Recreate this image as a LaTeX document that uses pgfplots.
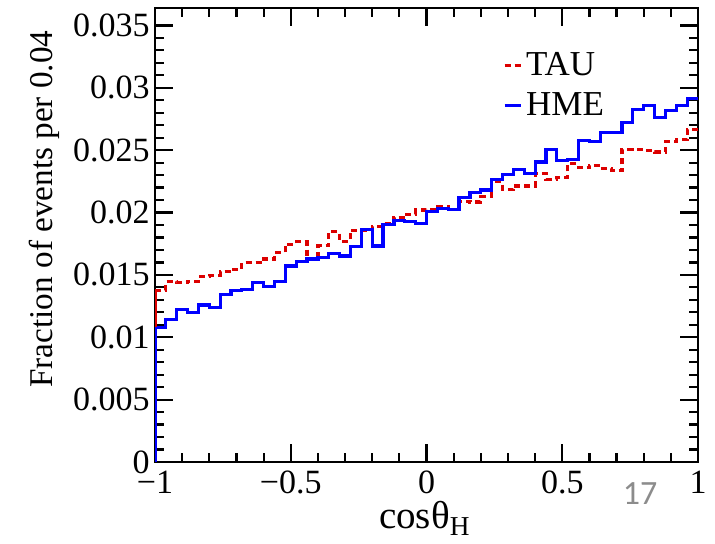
\documentclass[border=0pt]{standalone}
\usepackage{fontspec}
\setmainfont{Liberation Serif}
\newfontfamily\slidefont{Carlito}
\usepackage{pgfplots}
\pgfplotsset{compat=1.18}
\usetikzlibrary{calc}
\definecolor{tauRed}{RGB}{220,0,0}
\definecolor{hmeBlue}{RGB}{0,0,255}

% 50 bins of width 0.04, left edges; last row closes the final bin
\pgfplotstableread{
x y
-1.00 0.01378
-0.96 0.01445
-0.92 0.01437
-0.88 0.01450
-0.84 0.01490
-0.80 0.01498
-0.76 0.01525
-0.72 0.01544
-0.68 0.01597
-0.64 0.01597
-0.60 0.01627
-0.56 0.01680
-0.52 0.01744
-0.48 0.01765
-0.44 0.01632
-0.40 0.01733
-0.36 0.01846
-0.32 0.01771
-0.28 0.01859
-0.24 0.01859
-0.20 0.01891
-0.16 0.01912
-0.12 0.01960
-0.08 0.01987
-0.04 0.02020
0.00 0.02027
0.04 0.02051
0.08 0.02027
0.12 0.02091
0.16 0.02085
0.20 0.02126
0.24 0.02246
0.28 0.02185
0.32 0.02212
0.36 0.02212
0.40 0.02313
0.44 0.02265
0.48 0.02278
0.52 0.02390
0.56 0.02361
0.60 0.02380
0.64 0.02353
0.68 0.02334
0.72 0.02506
0.76 0.02506
0.80 0.02500
0.84 0.02486
0.88 0.02567
0.92 0.02586
0.96 0.02666
1.00 0.02666
}\tautable

\pgfplotstableread{
x y
-1.00 0.01079
-0.96 0.01143
-0.92 0.01223
-0.88 0.01196
-0.84 0.01258
-0.80 0.01239
-0.76 0.01346
-0.72 0.01373
-0.68 0.01383
-0.64 0.01437
-0.60 0.01405
-0.56 0.01445
-0.52 0.01571
-0.48 0.01605
-0.44 0.01627
-0.40 0.01640
-0.36 0.01672
-0.32 0.01651
-0.28 0.01725
-0.24 0.01864
-0.20 0.01731
-0.16 0.01907
-0.12 0.01934
-0.08 0.01926
-0.04 0.01912
0.00 0.02011
0.04 0.02033
0.08 0.02027
0.12 0.02118
0.16 0.02158
0.20 0.02180
0.24 0.02265
0.28 0.02305
0.32 0.02348
0.36 0.02313
0.40 0.02406
0.44 0.02506
0.48 0.02418
0.52 0.02425
0.56 0.02575
0.60 0.02567
0.64 0.02639
0.68 0.02639
0.72 0.02719
0.76 0.02826
0.80 0.02860
0.84 0.02762
0.88 0.02820
0.92 0.02860
0.96 0.02914
1.00 0.02914
}\hmetable

\begin{document}
\begin{tikzpicture}
\begin{axis}[
  name=ax,
  scale only axis,
  width=271.5pt, height=227pt,
  xmin=-1, xmax=1,
  ymin=0, ymax=0.0364,
  axis line style={line width=1.4pt},
  tick style={line width=1.1pt, black},
  tick align=inside,
  xtick pos=both, ytick pos=both,
  xtick={-1,-0.5,0,0.5,1},
  xticklabels={−1,−0.5,0,0.5,1},
  ytick={0,0.005,0.01,0.015,0.02,0.025,0.03,0.035},
  yticklabels={0,0.005,0.01,0.015,0.02,0.025,0.03,0.035},
  minor x tick num=4,
  minor y tick num=4,
  major tick length=9pt,
  minor tick length=4.5pt,
  scaled y ticks=false,
  tick label style={font=\fontsize{17}{20}\selectfont},
  xticklabel style={yshift=-1pt, inner xsep=0pt},
  yticklabel style={xshift=-1pt, inner xsep=1.5pt},
  ylabel={Fraction of events per 0.04},
  ylabel style={font=\fontsize{16.6}{20}\selectfont, at={(axis description cs:-0.203,0.557)}, rotate=0, anchor=center},
  xlabel={cosθ\textsubscript{H}},
  xlabel style={font=\fontsize{19.5}{22}\selectfont, at={(axis description cs:0.497,0)}, anchor=base, yshift=-33.5pt},
  legend style={draw=none, fill=none, at={(0.64,0.912)}, anchor=north west,
    font=\fontsize{17.5}{20}\selectfont, row sep=3pt, inner sep=0pt},
  legend cell align=left,
  legend image code/.code={\draw[#1] (0pt,0pt) -- (8pt,0pt);},
]
\addplot[const plot, tauRed, line width=1.6pt, dash pattern=on 3pt off 2pt] table {\tautable};
\addlegendentry{TAU}
\addplot[const plot, hmeBlue, line width=1.6pt] table {\hmetable};
\addlegendentry{HME}
\addplot[tauRed, line width=1.6pt, forget plot] coordinates {(-1,0) (-1,0.01378)};
\addplot[hmeBlue, line width=1.6pt, forget plot] coordinates {(-1,0) (-1,0.01079)};
\end{axis}
\node[font=\slidefont\fontsize{17}{18}\selectfont, text=black!45, anchor=center]
  at ($(ax.south west)+(242.5pt,-16pt)$) {17};
\pgfresetboundingbox
\path[use as bounding box] ($(ax.south west)+(-77.5pt,-41pt)$) rectangle ($(ax.north east)+(8.5pt,4pt)$);
\end{tikzpicture}
\end{document}
